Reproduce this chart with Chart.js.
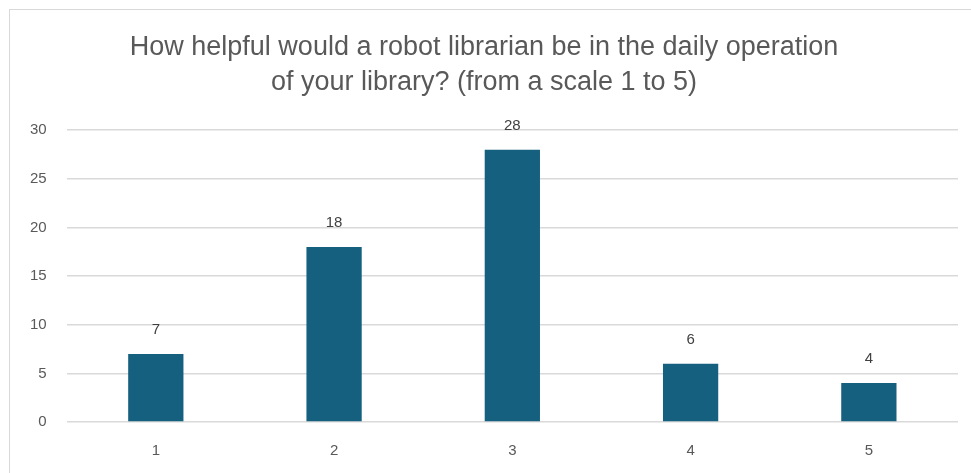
<!DOCTYPE html>
<html>
<head>
<meta charset="utf-8">
<script src="https://cdn.jsdelivr.net/npm/chart.js@4"></script>
<style>
  html, body { margin: 0; padding: 0; background: #fff; overflow: hidden; }
  #frame {
    position: absolute; left: 9px; top: 9px;
    width: 980px; height: 480px;
    border: 1px solid #d9d9d9;
  }
  #wrap { position: absolute; left: 0; top: 0; width: 971px; height: 473px; }
</style>
</head>
<body>
<div id="frame"></div>
<div id="wrap"><canvas id="helpfulChart"></canvas></div>
<script>
const scaleLabels = ["1", "2", "3", "4", "5"];
const responseCounts = [7, 18, 28, 6, 4];
const titleLines = [
  "How helpful would a robot librarian be in the daily operation",
  "of your library? (from a scale 1 to 5)"
];

const valueLabels = {
  id: "valueLabels",
  afterDatasetsDraw(chart) {
    const ctx = chart.ctx;
    const meta = chart.getDatasetMeta(0);
    ctx.save();
    ctx.font = "15px 'Liberation Sans', Arial, sans-serif";
    ctx.fillStyle = "#404040";
    ctx.textAlign = "center";
    ctx.textBaseline = "middle";
    meta.data.forEach((bar, i) => {
      ctx.fillText(String(responseCounts[i]), bar.x, bar.y - 24);
    });
    ctx.restore();
  }
};

document.addEventListener("DOMContentLoaded", () => {
  new Chart(document.getElementById("helpfulChart").getContext("2d"), {
    type: "bar",
    data: {
      labels: scaleLabels,
      datasets: [{
        data: responseCounts,
        backgroundColor: "#155f7f",
        borderWidth: 0,
        categoryPercentage: 1,
        barPercentage: 0.31
      }]
    },
    options: {
      responsive: true,
      maintainAspectRatio: false,
      animation: false,
      layout: { padding: { left: 10, right: 13, top: 10, bottom: 1 } },
      scales: {
        x: {
          grid: { display: false },
          border: { display: false },
          ticks: {
            color: "#595959",
            font: { family: "'Liberation Sans', Arial, sans-serif", size: 15 },
            padding: 12
          }
        },
        y: {
          min: 0,
          max: 30,
          grid: { color: "#d9d9d9", lineWidth: 1.5, drawTicks: false },
          border: { display: false },
          ticks: {
            stepSize: 5,
            color: "#595959",
            font: { family: "'Liberation Sans', Arial, sans-serif", size: 15 },
            padding: 20
          }
        }
      },
      plugins: {
        legend: { display: false },
        tooltip: { enabled: false },
        title: {
          display: true,
          text: titleLines,
          color: "#595959",
          font: { family: "'Liberation Sans', Arial, sans-serif", size: 27, weight: "normal", lineHeight: 1.3 },
          padding: { top: 20, bottom: 30 }
        }
      }
    },
    plugins: [valueLabels]
  });
});
</script>
</body>
</html>
